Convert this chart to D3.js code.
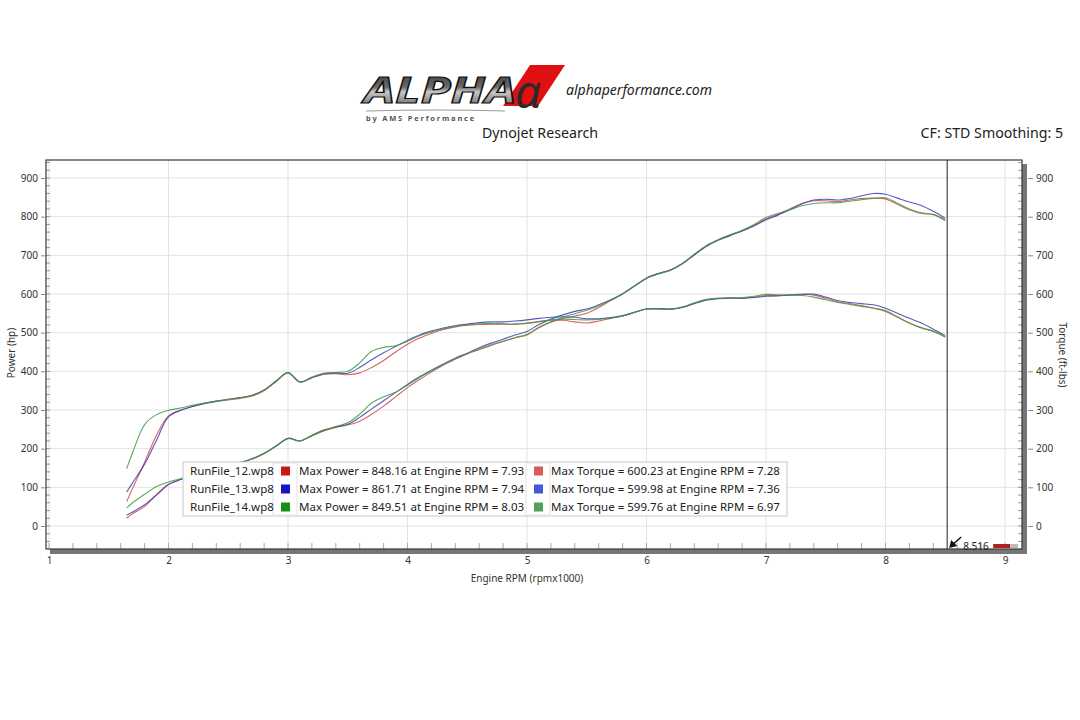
<!DOCTYPE html>
<html>
<head>
<meta charset="utf-8">
<script src="https://cdn.jsdelivr.net/npm/d3@7/dist/d3.min.js"></script>
<style>
  html, body { margin: 0; padding: 0; background: #fff; }
  svg { display: block; }
  text { font-family: "Noto Sans", "DejaVu Sans", sans-serif; }
</style>
</head>
<body>
<svg id="chart" width="1080" height="720"></svg>
<script>
// ---------------- DATA ----------------
const rpm = [1.65,1.7,1.8,1.9,2.0,2.1,2.2,2.3,2.4,2.5,2.6,2.7,2.8,2.9,3.0,3.1,3.2,3.3,3.4,3.5,3.6,3.7,3.8,3.9,4.0,4.1,4.2,4.3,4.4,4.5,4.6,4.7,4.8,4.9,5.0,5.1,5.2,5.3,5.4,5.5,5.6,5.7,5.8,5.9,6.0,6.1,6.2,6.3,6.4,6.5,6.6,6.7,6.8,6.9,7.0,7.1,7.2,7.3,7.4,7.5,7.6,7.7,7.8,7.9,8.0,8.1,8.2,8.3,8.4,8.5];

const powerRun12 = [20,32,50,82,108,120,129,138,147,155,163,173,187,206,226,220,233,246,255,261,271,289,310,334,358,379,398,416,431,445,456,467,477,487,494,513,527,537,543,550,565,583,600,621,641,653,662,679,702,724,740,753,763,778,794,806,820,834,841,841,839,843,847,848,846,832,818,808,805,790];
const powerRun13 = [28,36,55,80,107,120,129,139,148,156,164,174,188,207,227,220,234,248,256,263,281,303,324,345,366,386,403,419,434,447,461,473,483,494,503,521,535,546,555,561,572,585,601,621,641,653,662,678,701,723,739,751,763,776,792,804,818,833,843,845,843,847,854,860,858,848,838,829,814,796];
const powerRun14 = [47,60,82,102,114,122,131,139,148,156,164,174,188,207,226,220,235,248,257,267,289,318,334,346,364,384,401,418,433,446,458,469,478,487,496,514,528,540,549,558,569,584,600,620,641,652,661,679,703,725,740,753,765,780,798,808,818,828,834,836,836,840,844,847,849,835,820,810,806,792];

const torqueRun12 = [63,98,165,235,285,300,309,316,322,326,330,336,350,373,396,372,383,392,394,391,396,410,428,450,470,486,498,508,515,519,521,522,522,522,524,528,532,532,528,525,530,537,543,553,561,562,561,566,576,585,589,590,589,592,596,596,598,600,597,589,580,575,570,564,555,540,525,512,503,489];
const torqueRun13 = [88,112,160,222,282,299,309,317,323,328,332,338,352,375,397,373,384,394,396,395,410,430,448,464,480,494,504,512,518,522,526,528,528,530,533,537,540,541,540,536,536,539,544,553,561,562,561,565,575,584,588,589,589,591,594,595,597,598,600,592,583,578,575,572,563,550,537,525,509,493];
const torqueRun14 = [148,190,262,288,299,305,312,318,323,328,332,338,352,375,396,372,385,395,397,400,422,452,462,466,478,492,502,510,517,520,523,524,523,522,525,529,533,535,534,533,534,538,543,552,561,561,560,566,577,586,589,590,591,594,599,598,597,596,592,585,578,573,568,563,557,541,525,513,504,489];

const runNames = ["RunFile_12.wp8","RunFile_13.wp8","RunFile_14.wp8"];
const maxPowerText = ["Max Power = 848.16 at Engine RPM = 7.93","Max Power = 861.71 at Engine RPM = 7.94","Max Power = 849.51 at Engine RPM = 8.03"];
const maxTorqueText = ["Max Torque = 600.23 at Engine RPM = 7.28","Max Torque = 599.98 at Engine RPM = 7.36","Max Torque = 599.76 at Engine RPM = 6.97"];
const xTicks = [1,2,3,4,5,6,7,8,9];
const yTicks = [0,100,200,300,400,500,600,700,800,900];
const cursorRpm = 8.516;

// ---------------- STYLE ----------------
const powerColors = ["#cc1616","#1414c8","#16901a"];
const torqueColors = ["#d85a5a","#4656d8","#54a058"];
const lineColors = ["#d24848","#3c3cb4","#3c9c40"];

const svg = d3.select("#chart");
const L = 46, R = 1022, T = 160, B = 549;

const x = d3.scaleLinear().domain([1, 9]).range([49, 1005]);
const y = d3.scaleLinear().domain([0, 900]).range([526, 178]);

// ---------- Header ----------
const defs = svg.append("defs");
const grad = defs.append("linearGradient").attr("id","metal").attr("x1",0).attr("y1",0).attr("x2",0).attr("y2",1);
grad.append("stop").attr("offset","0%").attr("stop-color","#2a2a2a");
grad.append("stop").attr("offset","45%").attr("stop-color","#6a6a6a");
grad.append("stop").attr("offset","55%").attr("stop-color","#c8c8c8");
grad.append("stop").attr("offset","100%").attr("stop-color","#3a3a3a");
defs.append("clipPath").attr("id","plotclip").append("rect")
  .attr("x", L+1).attr("y", T+1).attr("width", R-L-1).attr("height", B-T-1);

const logo = svg.append("g");
logo.append("polygon").attr("points","530,65 565,65 538,106 503,106").attr("fill","#e01010");
logo.append("text").attr("x",364).attr("y",103)
  .attr("font-family","DejaVu Sans").attr("font-weight","bold").attr("font-style","italic")
  .attr("font-size",36).attr("textLength",152).attr("lengthAdjust","spacingAndGlyphs")
  .attr("fill","url(#metal)").attr("stroke","#111").attr("stroke-width",1.2)
  .text("ALPHA");
logo.append("text").attr("x",515).attr("y",108)
  .attr("font-family","DejaVu Serif").attr("font-style","italic")
  .attr("font-size",46).attr("fill","#2a2a2a").text("α");
logo.append("path").attr("d","M366,111 Q440,109 505,111").attr("stroke","#9a9a9a").attr("fill","none").attr("stroke-width",1);
logo.append("text").attr("x",366).attr("y",121).attr("font-size",7.5)
  .attr("font-family","DejaVu Sans").attr("font-weight","bold").attr("letter-spacing",1.8)
  .attr("fill","#555").text("by AMS Performance");
svg.append("text").attr("x",566).attr("y",95).attr("font-size",14)
  .attr("font-family","Liberation Sans").attr("font-style","italic").attr("fill","#222")
  .text("alphaperformance.com");
svg.append("text").attr("x",540).attr("y",138).attr("text-anchor","middle").attr("font-size",14.2)
  .attr("fill","#222").text("Dynojet Research");
svg.append("text").attr("x",1063).attr("y",138).attr("text-anchor","end").attr("font-size",14.2)
  .attr("fill","#222").text("CF: STD Smoothing: 5");

// ---------- Plot frame shadow ----------
svg.append("rect").attr("x", L+4).attr("y", B).attr("width", R-L+1).attr("height", 5).attr("fill","#767676");
svg.append("rect").attr("x", R).attr("y", T+4).attr("width", 5).attr("height", B-T+1).attr("fill","#767676");

// ---------- Grid ----------
const grid = svg.append("g");
grid.selectAll("line.v").data(xTicks.filter(d => x(d) > L && x(d) < R)).join("line")
  .attr("x1", d => x(d)).attr("x2", d => x(d)).attr("y1", T).attr("y2", B)
  .attr("stroke","#e3e3e3").attr("stroke-width",1);
grid.selectAll("line.h").data(yTicks).join("line")
  .attr("x1", L).attr("x2", R).attr("y1", d => y(d)).attr("y2", d => y(d))
  .attr("stroke","#e3e3e3").attr("stroke-width",1);

// minor ticks
const minorY = d3.range(-40, 941, 20);
svg.append("g").selectAll("line").data(minorY).join("line")
  .attr("x1", L).attr("x2", L+4).attr("y1", d => y(d)).attr("y2", d => y(d))
  .attr("stroke","#999");
svg.append("g").selectAll("line").data(minorY).join("line")
  .attr("x1", R-4).attr("x2", R).attr("y1", d => y(d)).attr("y2", d => y(d))
  .attr("stroke","#999");
const minorX = d3.range(1, 9.01, 0.2);
svg.append("g").selectAll("line").data(minorX).join("line")
  .attr("x1", d => x(d)).attr("x2", d => x(d)).attr("y1", B-6).attr("y2", B)
  .attr("stroke","#aaa");

// ---------- Curves ----------
const runsP = [powerRun12, powerRun13, powerRun14];
const runsT = [torqueRun12, torqueRun13, torqueRun14];
const line = d3.line().x(d => x(d[0])).y(d => y(d[1])).curve(d3.curveCatmullRom.alpha(0.5));
const curves = svg.append("g").attr("clip-path","url(#plotclip)");
[0,1,2].forEach(i => {
  curves.append("path").datum(rpm.map((r,k) => [r, runsT[i][k]]))
    .attr("d", line).attr("fill","none").attr("stroke", lineColors[i])
    .attr("stroke-width",1.1).attr("stroke-opacity",0.85);
  curves.append("path").datum(rpm.map((r,k) => [r, runsP[i][k]]))
    .attr("d", line).attr("fill","none").attr("stroke", lineColors[i])
    .attr("stroke-width",1.1).attr("stroke-opacity",0.85);
});

// ---------- Frame ----------
svg.append("rect").attr("x", L).attr("y", T).attr("width", R-L).attr("height", B-T)
  .attr("fill","none").attr("stroke","#3a3a3a").attr("stroke-width",1.2);

// ---------- Axes ----------
const leftAxis = d3.axisLeft(y).tickValues(yTicks).tickSize(4).tickPadding(3);
const gl = svg.append("g").attr("transform",`translate(${L-1},0)`).call(leftAxis);
gl.select(".domain").remove();
gl.selectAll("line").attr("stroke","#888");
gl.selectAll("text").attr("font-size",10).attr("fill","#333").attr("font-family","Noto Sans");

const rightAxis = d3.axisRight(y).tickValues(yTicks).tickSize(5).tickPadding(3);
const gr = svg.append("g").attr("transform",`translate(${R+6},0)`).call(rightAxis);
gr.select(".domain").remove();
gr.selectAll("line").attr("stroke","#888");
gr.selectAll("text").attr("font-size",10).attr("fill","#333").attr("font-family","Noto Sans");

const bottomAxis = d3.axisBottom(x).tickValues(xTicks).tickSize(0).tickPadding(0).tickFormat(d3.format("d"));
const gb = svg.append("g").attr("transform",`translate(0,${B+8})`).call(bottomAxis);
gb.select(".domain").remove();
gb.selectAll("text").attr("font-size",10).attr("fill","#333").attr("font-family","Noto Sans");

svg.append("text").attr("x", 527).attr("y", 582).attr("text-anchor","middle")
  .attr("font-size",10).attr("fill","#333").text("Engine RPM (rpmx1000)");
svg.append("text").attr("transform","translate(15,353) rotate(-90)").attr("text-anchor","middle")
  .attr("font-size",10).attr("fill","#333").text("Power (hp)");
svg.append("text").attr("transform","translate(1059,355) rotate(90)").attr("text-anchor","middle")
  .attr("font-size",10).attr("fill","#333").text("Torque (ft-lbs)");

// ---------- Cursor ----------
const cx = x(cursorRpm);
svg.append("line").attr("x1", cx).attr("x2", cx).attr("y1", T).attr("y2", B).attr("stroke","#222").attr("stroke-width",1);
svg.append("line").attr("x1", cx+14).attr("y1", B-12).attr("x2", cx+5).attr("y2", B-4).attr("stroke","#111").attr("stroke-width",1.5);
svg.append("polygon").attr("points", `${cx+2},${B-1} ${cx+4},${B-9} ${cx+10},${B-3}`).attr("fill","#111");
svg.append("text").attr("x", cx+16).attr("y", B+1).attr("font-size",10).attr("fill","#222").text(cursorRpm.toFixed(3));
svg.append("rect").attr("x", cx+46).attr("y", B-5).attr("width", 17).attr("height", 4).attr("fill","#b02020");
svg.append("rect").attr("x", cx+63).attr("y", B-5).attr("width", 8).attr("height", 4).attr("fill","#bbb");

// ---------- Legend ----------
const lg = svg.append("g").attr("transform","translate(183,462)");
const rowH = 18, lw = 604;
lg.append("rect").attr("width", lw).attr("height", rowH*3).attr("fill","#fff").attr("stroke","#c8c8c8");
[[90,114],[343,367]].forEach(([a,b]) => {
  lg.append("rect").attr("x",a).attr("y",1).attr("width",b-a).attr("height",rowH*3-2)
    .attr("fill","none").attr("stroke","#e2e2e2");
});
runNames.forEach((n,i) => {
  const cy = i*rowH + rowH/2;
  lg.append("text").attr("x",7).attr("y",cy+4).attr("font-size",11.5).attr("fill","#222").text(n);
  lg.append("rect").attr("x",98).attr("y",cy-4.5).attr("width",9).attr("height",9).attr("fill",powerColors[i]);
  lg.append("text").attr("x",116).attr("y",cy+4).attr("font-size",11.5).attr("fill","#222").text(maxPowerText[i]);
  lg.append("rect").attr("x",351).attr("y",cy-4.5).attr("width",9).attr("height",9).attr("fill",torqueColors[i]);
  lg.append("text").attr("x",368).attr("y",cy+4).attr("font-size",11.5).attr("fill","#222").text(maxTorqueText[i]);
});
</script>
</body>
</html>
